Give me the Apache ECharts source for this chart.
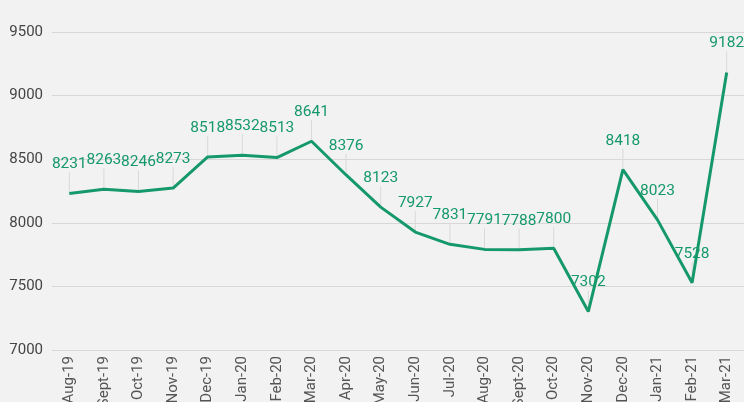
<!DOCTYPE html>
<html>
<head>
<meta charset="utf-8">
<script src="https://cdn.jsdelivr.net/npm/echarts@6/dist/echarts.min.js"></script>
<style>
  html, body { margin: 0; padding: 0; background: #f2f2f2; }
  #chart { width: 744px; height: 402px; }
</style>
</head>
<body>
<div id="chart"></div>
<script>
const months = [
  "Aug-19", "Sept-19", "Oct-19", "Nov-19", "Dec-19", "Jan-20", "Feb-20", "Mar-20", "Apr-20", "May-20",
  "Jun-20", "Jul-20", "Aug-20", "Sept-20", "Oct-20", "Nov-20", "Dec-20", "Jan-21", "Feb-21", "Mar-21",
];
const values = [
  8231, 8263, 8246, 8273, 8518, 8532, 8513, 8641, 8376, 8123,
  7927, 7831, 7791, 7788, 7800, 7302, 8418, 8023, 7528, 9182,
];

const green = "#15996a";
const labelGap = 21;
const chart = echarts.init(document.getElementById("chart"));

chart.setOption({
  backgroundColor: "#f2f2f2",
  animation: false,
  grid: { left: 52, right: 0, top: 32, bottom: 52, outerBoundsMode: "none", containLabel: false },
  xAxis: {
    type: "category",
    data: months,
    boundaryGap: true,
    axisLine: { show: false },
    axisTick: { show: false },
    axisLabel: {
      rotate: 90,
      interval: 0,
      margin: 6,
      color: "#555",
      fontSize: 15,
      fontFamily: "Roboto",
    },
    splitLine: { show: false },
  },
  yAxis: {
    type: "value",
    min: 7000,
    max: 9500,
    interval: 500,
    axisLine: { show: false },
    axisTick: { show: false },
    axisLabel: { color: "#444", fontSize: 15, fontFamily: "Roboto", margin: 9, formatter: (v) => String(v) },
    splitLine: { lineStyle: { color: "#d8d8d8", width: 1 } },
  },
  series: [
    {
      // leader lines from each point up to its label
      type: "custom",
      data: values.map((v, i) => [i, v]),
      renderItem: (params, api) => {
        const p = api.coord([api.value(0), api.value(1)]);
        return {
          type: "line",
          shape: { x1: p[0], y1: p[1], x2: p[0], y2: p[1] - labelGap },
          style: { stroke: "#d9d9d9", lineWidth: 1 },
        };
      },
      silent: true,
    },
    {
      type: "line",
      data: values,
      symbol: "circle",
      symbolSize: 0,
      showSymbol: true,
      lineStyle: { color: green, width: 3 },
      itemStyle: { color: green },
      label: {
        show: true,
        position: "top",
        distance: labelGap,
        color: green,
        fontSize: 15.5,
        fontFamily: "Roboto",
      },
      labelLayout: { hideOverlap: false },
    },
  ],
});
</script>
</body>
</html>
